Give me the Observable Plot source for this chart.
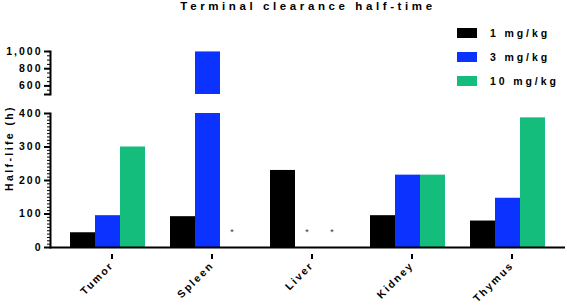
<!DOCTYPE html>
<html><head><meta charset="utf-8">
<script src="https://cdn.jsdelivr.net/npm/d3@7"></script>
<script src="https://cdn.jsdelivr.net/npm/@observablehq/plot@0.6"></script>
<style>
html,body{margin:0;padding:0;background:#fff;}
#chart{position:relative;width:567px;height:307px;font-family:"Liberation Sans",Arial,sans-serif;overflow:hidden;background:#fff;}
#chart svg{position:absolute;left:0;}
.title{position:absolute;top:0px;left:308px;transform:translateX(-50%);white-space:nowrap;font-weight:bold;font-size:11.5px;letter-spacing:3.6px;line-height:13px;color:#000;z-index:2;}
.ylabel{position:absolute;left:9px;top:148px;transform:translate(-50%,-50%) rotate(-90deg);white-space:nowrap;font-weight:bold;font-size:10.5px;letter-spacing:2.4px;line-height:12px;z-index:2;}
.legend{position:absolute;left:457px;top:28px;z-index:2;}
.legend .item{position:absolute;left:0;white-space:nowrap;height:10px;}
.legend .sw{position:absolute;left:0;top:0;width:20px;height:10px;}
.legend .lab{position:absolute;left:33px;top:-1px;font-weight:bold;font-size:10.5px;letter-spacing:2.9px;line-height:12px;}
</style>
</head><body>
<div id="chart"></div>
<script>
// ---- data ----
const categories = ["Tumor", "Spleen", "Liver", "Kidney", "Thymus"];
const doses = ["1 mg/kg", "3 mg/kg", "10 mg/kg"];
const doseColors = ["#000000", "#0b32ff", "#14bd7c"];
const halfLife1mg = [44, 92, 230, 95, 79];
const halfLife3mg = [95, 995, null, 216, 147];
const halfLife10mg = [300, null, null, 216, 387];
const yTicksLower = [0, 100, 200, 300, 400];
const yTicksUpper = [600, 800, 1000];
const titleText = "Terminal clearance half-time";
const yLabelText = "Half-life (h)";
const missingMarker = "*";

const series = [halfLife1mg, halfLife3mg, halfLife10mg];
const rows = [];
doses.forEach((dose, i) => categories.forEach((cat, j) => rows.push({category: cat, dose, di: i, value: series[i][j]})));
const present = rows.filter(d => d.value != null);
const missing = rows.filter(d => d.value == null);

const fmt = d3.format(",");
const commonStyle = {background: "transparent", overflow: "visible", fontFamily: "'Liberation Sans', Arial, sans-serif", letterSpacing: "2px"};
const xScale = {domain: categories, paddingInner: 0.25, paddingOuter: 0.2};
const barWidth = 25;

function bars() {
  return doses.map((dose, i) => Plot.barY(present.filter(d => d.di === i), {
    x: "category", y: "value", fill: doseColors[i],
    insetLeft: barWidth * i, insetRight: barWidth * (2 - i), clip: true
  }));
}

// upper segment (500–1000)
const upperDomain = [500, 1000];
const upper = Plot.plot({
  width: 567, height: 100,
  marginTop: 51, marginBottom: 6, marginLeft: 50, marginRight: 2,
  style: commonStyle,
  x: {...xScale, axis: null},
  y: {domain: upperDomain},
  marks: [
    ...bars(),
    Plot.axisY({ticks: d3.range(upperDomain[0], upperDomain[1] + 1, 50), tickSize: 3, tickFormat: () => "", strokeWidth: 1, label: null}),
    Plot.axisY({ticks: [upperDomain[0], ...yTicksUpper], tickSize: 6, tickPadding: 2, strokeWidth: 2,
      tickFormat: d => yTicksUpper.includes(d) ? fmt(d) : "", fontWeight: "bold", fontSize: 10.5, label: null}),
    Plot.frame({anchor: "left", strokeWidth: 2})
  ]
});
upper.style.top = "0px";

// lower segment (0–400)
const lowerDomain = [0, 400];
const lower = Plot.plot({
  width: 567, height: 207,
  marginTop: 13, marginBottom: 60, marginLeft: 50, marginRight: 2,
  style: commonStyle,
  x: xScale,
  y: {domain: lowerDomain},
  marks: [
    ...bars(),
    ...doses.map((dose, i) => Plot.text(missing.filter(d => d.di === i), {
      x: "category", y: () => 0, text: () => missingMarker,
      dx: (i - 1) * barWidth, dy: -15, fontSize: 9, fill: "#333"
    })),
    Plot.ruleY([0], {strokeWidth: 2}),
    Plot.frame({anchor: "left", strokeWidth: 2}),
    Plot.axisY({ticks: d3.range(lowerDomain[0], lowerDomain[1] + 1, 10), tickSize: 3, tickFormat: () => "", strokeWidth: 1, label: null}),
    Plot.axisY({ticks: yTicksLower, tickSize: 6, tickPadding: 2, strokeWidth: 2, tickFormat: fmt, fontWeight: "bold", fontSize: 10.5, label: null}),
    Plot.axisX({tickRotate: -45, tickSize: 5, strokeWidth: 2, fontWeight: "bold", fontSize: 10.5, label: null, tickPadding: 4, dx: 4, dy: 7})
  ]
});
lower.style.top = "100px";

const chart = document.getElementById("chart");
chart.appendChild(upper);
chart.appendChild(lower);

const title = document.createElement("div");
title.className = "title"; title.textContent = titleText; chart.appendChild(title);
const yl = document.createElement("div");
yl.className = "ylabel"; yl.textContent = yLabelText; chart.appendChild(yl);
const legend = document.createElement("div");
legend.className = "legend";
doses.forEach((dose, i) => {
  const it = document.createElement("div");
  it.className = "item"; it.style.top = (i * 24) + "px";
  const sw = document.createElement("div"); sw.className = "sw"; sw.style.background = doseColors[i];
  const lab = document.createElement("div"); lab.className = "lab"; lab.textContent = dose;
  it.appendChild(sw); it.appendChild(lab); legend.appendChild(it);
});
chart.appendChild(legend);
</script>
</body></html>
